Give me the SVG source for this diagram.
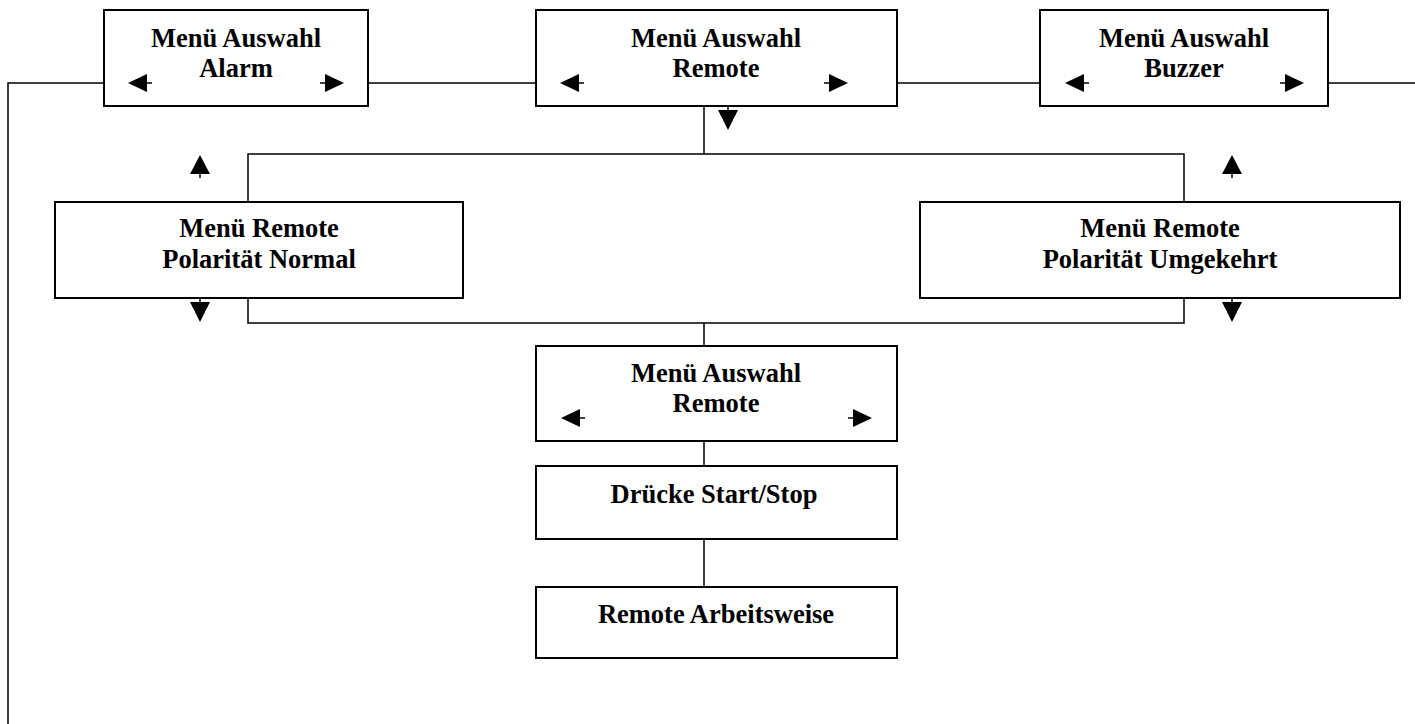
<svg xmlns="http://www.w3.org/2000/svg" width="1415" height="724" viewBox="0 0 1415 724">
  <style>
    .box { fill: #fff; stroke: #000; stroke-width: 2; }
    .wire { fill: none; stroke: #000; stroke-width: 1.5; }
    .lbl { font-family: "Liberation Serif", "Times New Roman", serif; font-weight: bold; font-size: 26.5px; text-anchor: middle; fill: #000; }
    .tri { fill: #000; stroke: none; }
    .stem { stroke: #000; stroke-width: 1.5; }
  </style>
  <defs>
    <!-- solid arrowheads, tip at origin -->
    <g id="arrowL"><path class="tri" d="M0,0 L19,-9 L19,9 Z"/><line class="stem" x1="19" y1="0" x2="24" y2="0"/></g>
    <g id="arrowR"><path class="tri" d="M0,0 L-19,-9 L-19,9 Z"/><line class="stem" x1="-19" y1="0" x2="-24" y2="0"/></g>
    <g id="arrowU"><path class="tri" d="M0,0 L-10,19 L10,19 Z"/><line class="stem" x1="0" y1="19" x2="0" y2="23"/></g>
    <g id="arrowD"><path class="tri" d="M0,0 L-10,-20 L10,-20 Z"/><line class="stem" x1="0" y1="-20" x2="0" y2="-24"/></g>
  </defs>

  <g id="connectors">
    <polyline class="wire" points="104,83 8,83 8,724"/>
    <line class="wire" x1="368" y1="83" x2="536" y2="83"/>
    <line class="wire" x1="897" y1="83" x2="1040" y2="83"/>
    <line class="wire" x1="1328" y1="83" x2="1415" y2="83"/>
    <line class="wire" x1="704" y1="106" x2="704" y2="154"/>
    <polyline class="wire" points="248,202 248,154 1184,154 1184,202"/>
    <polyline class="wire" points="248,298 248,323 1184,323 1184,298"/>
    <line class="wire" x1="704" y1="323" x2="704" y2="346"/>
    <line class="wire" x1="704" y1="441" x2="704" y2="466"/>
    <line class="wire" x1="704" y1="539" x2="704" y2="587"/>
  </g>

  <g id="menu-alarm">
    <rect class="box" x="104" y="10" width="264" height="96"/>
    <text class="lbl" x="236" y="47">Menü Auswahl</text>
    <text class="lbl" x="236" y="77">Alarm</text>
    <use href="#arrowL" x="128" y="83"/>
    <use href="#arrowR" x="344" y="83"/>
  </g>

  <g id="menu-remote">
    <rect class="box" x="536" y="10" width="361" height="96"/>
    <text class="lbl" x="716" y="47">Menü Auswahl</text>
    <text class="lbl" x="716" y="77">Remote</text>
    <use href="#arrowL" x="560" y="83"/>
    <use href="#arrowR" x="848" y="83"/>
    <use href="#arrowD" x="728" y="130"/>
  </g>

  <g id="menu-buzzer">
    <rect class="box" x="1040" y="10" width="288" height="96"/>
    <text class="lbl" x="1184" y="47">Menü Auswahl</text>
    <text class="lbl" x="1184" y="77">Buzzer</text>
    <use href="#arrowL" x="1065" y="83"/>
    <use href="#arrowR" x="1304" y="83"/>
  </g>

  <g id="polarity-normal">
    <rect class="box" x="55" y="202" width="408" height="96"/>
    <text class="lbl" x="259" y="237">Menü Remote</text>
    <text class="lbl" x="259" y="268">Polarität Normal</text>
    <use href="#arrowU" x="200" y="155"/>
    <use href="#arrowD" x="200" y="322"/>
  </g>

  <g id="polarity-inverted">
    <rect class="box" x="920" y="202" width="480" height="96"/>
    <text class="lbl" x="1160" y="237">Menü Remote</text>
    <text class="lbl" x="1160" y="268">Polarität Umgekehrt</text>
    <use href="#arrowU" x="1232" y="155"/>
    <use href="#arrowD" x="1232" y="322"/>
  </g>

  <g id="menu-remote-confirm">
    <rect class="box" x="536" y="346" width="361" height="95"/>
    <text class="lbl" x="716" y="382">Menü Auswahl</text>
    <text class="lbl" x="716" y="412">Remote</text>
    <use href="#arrowL" x="561" y="418"/>
    <use href="#arrowR" x="872" y="418"/>
  </g>

  <g id="press-start-stop">
    <rect class="box" x="536" y="466" width="361" height="73"/>
    <text class="lbl" x="714" y="503">Drücke Start/Stop</text>
  </g>

  <g id="remote-mode">
    <rect class="box" x="536" y="587" width="361" height="71"/>
    <text class="lbl" x="716" y="623">Remote Arbeitsweise</text>
  </g>
</svg>
